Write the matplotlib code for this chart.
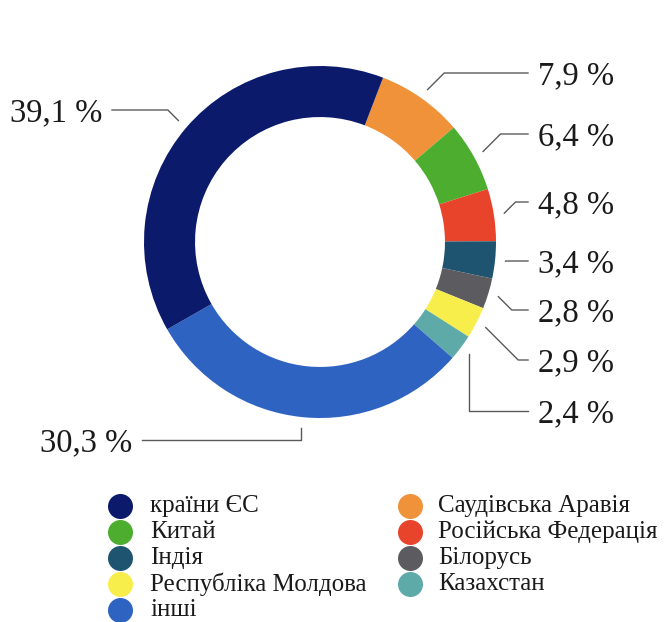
import numpy as np
import matplotlib
matplotlib.use('Agg')
import matplotlib.pyplot as plt

# ============== Data ==============
# slice order, clockwise from the top
CATEGORIES = ['Саудівська Аравія', 'Китай', 'Російська Федерація', 'Індія',
              'Білорусь', 'Республіка Молдова', 'Казахстан', 'інші', 'країни ЄС']
SHARES = [7.9, 6.4, 4.8, 3.4, 2.8, 2.9, 2.4, 30.3, 39.1]
LABELS = ['7,9 %', '6,4 %', '4,8 %', '3,4 %', '2,8 %', '2,9 %', '2,4 %',
          '30,3 %', '39,1 %']
COLORS = ['#f0923a', '#4cad2f', '#e8432b', '#1f5470', '#5b5b60',
          '#f7ee4c', '#5eaaa8', '#2f63c2', '#0b1a6b']

# legend order, row by row (left column, right column)
LEGEND_ROWS = [('країни ЄС', 'Саудівська Аравія'),
               ('Китай', 'Російська Федерація'),
               ('Індія', 'Білорусь'),
               ('Республіка Молдова', 'Казахстан'),
               ('інші', None)]

# ============== Layout ==============
W, H = 667, 622
CX, CY, R = 320, 242, 176          # pie centre / radius in pixels
START = 21                          # degrees clockwise from the top
FONT = 'Liberation Serif'

# leader-line end (pixel) and how the line bends: 'diag' or 'vert'
LABEL_POS = [(538, 73, 'diag'), (538, 134, 'diag'), (538, 202, 'diag'),
             (538, 261, 'diag'), (538, 310, 'diag'), (538, 360, 'diag'),
             (538, 411, 'vert'), (132, 440, 'vert'), (102, 110, 'diag')]


def px(x, y):
    """pixel -> data coordinates (1 unit = pie radius)"""
    return (x - CX) / R, (CY - y) / R


fig = plt.figure(figsize=(W / 100, H / 100), dpi=100)
ax = fig.add_axes([0, 0, 1, 1])

ax.pie(SHARES, colors=COLORS, startangle=90 - START, counterclock=False,
       radius=1, wedgeprops=dict(width=0.29, edgecolor='none'))
ax.set_xlim(-CX / R, (W - CX) / R)
ax.set_ylim((CY - H) / R, CY / R)
ax.axis('off')

# leader lines and labels
cum = np.cumsum([0] + SHARES)
gap = 10 / R
for i, lab in enumerate(LABELS):
    mid = np.radians(START + (cum[i] + cum[i + 1]) / 2 * 3.6)
    sx, sy = 1.06 * np.sin(mid), 1.06 * np.cos(mid)
    tx, ty = px(*LABEL_POS[i][:2])
    right = tx > 0
    ex = tx - gap if right else tx + gap
    if LABEL_POS[i][2] == 'diag':
        dy = abs(ty - sy)
        kx = sx + dy if right else sx - dy
        if (right and kx > ex) or (not right and kx < ex):
            kx = ex
        xs, ys = [sx, kx, ex], [sy, ty, ty]
    else:
        xs, ys = [sx, sx, ex], [sy, ty, ty]
    ax.plot(xs, ys, color='#5a5a5a', lw=1.0)
    ax.text(tx, ty - 3 / R, lab, ha='left' if right else 'right', va='center',
            fontsize=23.5, family=FONT, color='#1a1a1a')

# legend, drawn as markers + text
col_marker = [120, 410]
col_text = [150, 438]
for r, row in enumerate(LEGEND_ROWS):
    y = 506 + 26 * r
    for c, name in enumerate(row):
        if name is None:
            continue
        color = COLORS[CATEGORIES.index(name)]
        mx, my = px(col_marker[c], y)
        ax.plot(mx, my, ls='none', marker='o', markersize=18,
                markerfacecolor=color, markeredgecolor='none', clip_on=False)
        lx, ly = px(col_text[c], y)
        ax.text(lx, ly, name, ha='left', va='center', fontsize=18,
                family=FONT, color='#1a1a1a')

fig.savefig('out.png', dpi=100)
